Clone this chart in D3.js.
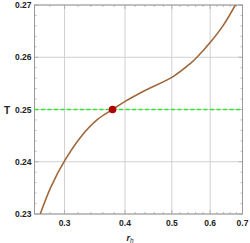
<!DOCTYPE html>
<meta charset="utf-8">
<style>
  body { margin: 0; background: #fff; }
  text { font-family: 'Liberation Sans', Arial, sans-serif; }
</style>
<body>
<div id="my_dataviz"></div>
<script src="https://d3js.org/d3.v7.min.js"></script>
<script>
// values
var rh = [0.2672, 0.2812, 0.3006, 0.3244, 0.3510, 0.3770, 0.4011, 0.4370, 0.5030, 0.5459, 0.5636, 0.6024, 0.6397, 0.6763];
var T  = [0.2300, 0.2352, 0.2403, 0.2448, 0.2481, 0.2500, 0.2516, 0.2535, 0.2563, 0.2588, 0.2600, 0.2630, 0.2662, 0.2700];
var xTicks = [0.3, 0.4, 0.5, 0.6, 0.7];
var yTicks = [0.23, 0.24, 0.25, 0.26, 0.27];
var Tline = 0.25;
var dot = {r: 0.377, T: 0.25};

var margin = {top: 5, right: 7.5, bottom: 29, left: 34.5},
    width = 250 - margin.left - margin.right,
    height = 243 - margin.top - margin.bottom;

var svg = d3.select("#my_dataviz")
  .append("svg")
    .attr("width", 250)
    .attr("height", 243)
  .append("g")
    .attr("transform", "translate(" + margin.left + "," + margin.top + ")");

var x = d3.scaleLog().domain([0.26, 0.7]).range([0, width]);
var y = d3.scaleLinear().domain([0.23, 0.27]).range([height, 0]);

svg.append("clipPath").attr("id", "clip")
  .append("rect").attr("width", width).attr("height", height);

// grid
svg.selectAll(".gx").data(xTicks).enter().append("line")
  .attr("x1", d => x(d)).attr("x2", d => x(d))
  .attr("y1", 0).attr("y2", height)
  .attr("stroke", "#d0d0d0").attr("stroke-width", 1);
svg.selectAll(".gy").data(yTicks).enter().append("line")
  .attr("y1", d => y(d)).attr("y2", d => y(d))
  .attr("x1", 0).attr("x2", width)
  .attr("stroke", "#d0d0d0").attr("stroke-width", 1);

// minor ticks (frame, inward)
var xMinor = d3.range(0.26, 0.7001, 0.02);
var yMinor = d3.range(0.23, 0.27001, 0.002);
var tk = svg.append("g").attr("stroke", "#aaa").attr("stroke-width", 0.8);
xMinor.forEach(function(d) {
  var big = xTicks.some(t => Math.abs(t - d) < 1e-6);
  var l = big ? 4 : 2;
  tk.append("line").attr("x1", x(d)).attr("x2", x(d)).attr("y1", height).attr("y2", height - l);
  tk.append("line").attr("x1", x(d)).attr("x2", x(d)).attr("y1", 0).attr("y2", l);
});
yMinor.forEach(function(d) {
  var big = yTicks.some(t => Math.abs(t - d) < 1e-6);
  var l = big ? 4 : 2;
  tk.append("line").attr("y1", y(d)).attr("y2", y(d)).attr("x1", 0).attr("x2", l);
  tk.append("line").attr("y1", y(d)).attr("y2", y(d)).attr("x1", width).attr("x2", width - l);
});

// frame
svg.append("rect").attr("width", width).attr("height", height)
  .attr("fill", "none").attr("stroke", "#999").attr("stroke-width", 1);

// green dashed line
svg.append("line")
  .attr("x1", 0).attr("x2", width)
  .attr("y1", y(Tline)).attr("y2", y(Tline))
  .attr("stroke", "#2ee62e").attr("stroke-width", 1.3)
  .attr("stroke-dasharray", "4,2.5");

// curve
var pts = rh.map((r, i) => [r, T[i]]);
svg.append("path")
  .datum(pts)
  .attr("clip-path", "url(#clip)")
  .attr("fill", "none")
  .attr("stroke", "#a0683a")
  .attr("stroke-width", 1.6)
  .attr("d", d3.line().x(d => x(d[0])).y(d => y(d[1])).curve(d3.curveCatmullRom.alpha(0.5)));

// point
svg.append("circle")
  .attr("cx", x(dot.r)).attr("cy", y(dot.T)).attr("r", 3.8)
  .attr("fill", "#b00000");

// tick labels
svg.selectAll(".xl").data(xTicks).enter().append("text")
  .attr("x", d => x(d)).attr("y", height + 12)
  .attr("text-anchor", "middle")
  .style("font-size", "8.5px").style("font-weight", "bold").attr("fill", "#222")
  .text(d => d.toFixed(1));
svg.selectAll(".yl").data(yTicks).enter().append("text")
  .attr("x", -3).attr("y", d => y(d) + 3)
  .attr("text-anchor", "end")
  .style("font-size", "8.5px").style("font-weight", "bold").attr("fill", "#222")
  .text(d => d.toFixed(2));

// axis titles
svg.append("text")
  .attr("x", -27.5).attr("y", y(0.25) + 4)
  .attr("text-anchor", "middle")
  .style("font-size", "10px").style("font-weight", "bold").attr("fill", "#222")
  .text("T");
var lab = svg.append("text")
  .attr("x", x(0.41)).attr("y", height + 27)
  .attr("text-anchor", "middle")
  .style("font-size", "9px").attr("fill", "#222");
lab.append("tspan").style("font-style", "italic").style("font-weight", "bold").text("r");
lab.append("tspan").attr("dy", 2).style("font-size", "6.5px").style("font-style", "italic").text("h");
</script>
</body>
